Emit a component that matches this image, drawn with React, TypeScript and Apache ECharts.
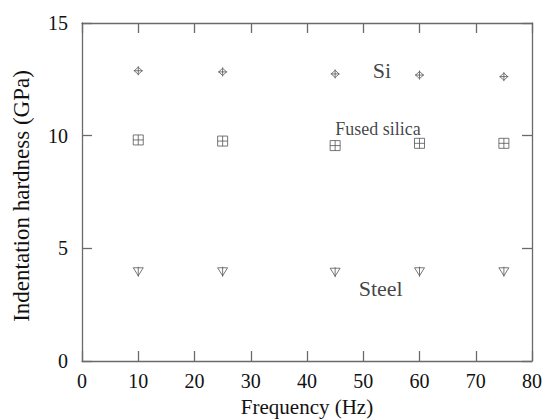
import React, { useEffect, useRef } from "react";
import * as echarts from "echarts";

const frequencies = [10, 25, 45, 60, 75];
const siValues = [12.88, 12.83, 12.74, 12.69, 12.62];
const silicaValues = [9.81, 9.76, 9.56, 9.66, 9.66];
const steelValues = [3.96, 3.96, 3.94, 3.96, 3.96];
const annotations: [number, number, string, number][] = [
  [53.3, 12.9, "Si", 22],
  [52.6, 10.3, "Fused silica", 18],
  [53.1, 3.2, "Steel", 22],
];
const xTicks = [0, 10, 20, 30, 40, 50, 60, 70, 80];
const yTicks = [0, 5, 10, 15];

const FONT = "'Times New Roman', 'Liberation Serif', serif";
const AXIS_COLOR = "#6a6a6a";
const MARK_COLOR = "#555";

const siSymbol = "path://M5,1 L8.5,5 L5,9 L1.5,5 Z M5,0 L5,10 M1,5 L9,5";
const silicaSymbol = "path://M0,0 L10,0 L10,10 L0,10 Z M0,5 L10,5 M5,0 L5,10";
const steelSymbol = "path://M0,1 L10,1 L5,9 Z M5,0 L5,10";

export default function App() {
  const ref = useRef<HTMLDivElement>(null);
  useEffect(() => {
    if (!ref.current) return;
    const chart = echarts.init(ref.current, undefined, { renderer: "svg" });
    const axisCommon = {
      type: "value" as const,
      axisLine: { show: true, onZero: false, lineStyle: { color: AXIS_COLOR, width: 1.3 } },
      axisTick: { show: true, inside: true, length: 10, lineStyle: { color: AXIS_COLOR, width: 1.3 } },
      splitLine: { show: false },
    };
    const mk = (vals: number[]) => frequencies.map((f, i) => [f, vals[i]]);
    const markStyle = { color: "none", borderColor: MARK_COLOR, borderWidth: 1 };
    chart.setOption({
      animation: false,
      textStyle: { fontFamily: FONT },
      grid: {
        left: 82,
        right: 12,
        top: 23,
        bottom: 58,
        containLabel: false,
        outerBoundsMode: "none",
      },
      xAxis: [
        {
          ...axisCommon,
          min: 0,
          max: 80,
          interval: 10,
          position: "bottom",
          name: "Frequency (Hz)",
          nameLocation: "middle",
          nameGap: 35,
          nameTextStyle: { fontFamily: FONT, fontSize: 21, lineHeight: 21, color: "#111" },
          axisLabel: {
            fontFamily: FONT,
            fontSize: 20,
            color: "#111",
            margin: 10,
            formatter: (v: number) => (xTicks.includes(v) ? String(v) : ""),
          },
        },
        {
          ...axisCommon,
          min: 0,
          max: 80,
          interval: 10,
          position: "top",
          axisLabel: { show: false },
        },
      ],
      yAxis: [
        {
          ...axisCommon,
          min: 0,
          max: 15,
          interval: 5,
          position: "left",
          name: "Indentation hardness (GPa)",
          nameLocation: "middle",
          nameGap: 49,
          nameTextStyle: { fontFamily: FONT, fontSize: 23, color: "#111", padding: [0, 8, 0, 0] },
          axisLabel: {
            fontFamily: FONT,
            fontSize: 20,
            color: "#111",
            margin: 14,
            verticalAlign: "middle",
            padding: [0, 0, 5, 0],
            formatter: (v: number) => (yTicks.includes(v) ? String(v) : ""),
          },
        },
        {
          ...axisCommon,
          min: 0,
          max: 15,
          interval: 5,
          position: "right",
          axisLabel: { show: false },
        },
      ],
      series: [
        {
          type: "scatter",
          name: "Si",
          data: mk(siValues),
          symbol: siSymbol,
          symbolSize: 9,
          itemStyle: markStyle,
        },
        {
          type: "scatter",
          name: "Fused silica",
          data: mk(silicaValues),
          symbol: silicaSymbol,
          symbolSize: 10,
          itemStyle: markStyle,
        },
        {
          type: "scatter",
          name: "Steel",
          data: mk(steelValues),
          symbol: steelSymbol,
          symbolSize: 10,
          itemStyle: markStyle,
        },
        {
          type: "scatter",
          name: "labels",
          symbolSize: 0,
          data: annotations.map((a) => ({
            value: [a[0], a[1]],
            label: {
              show: true,
              position: "inside",
              formatter: a[2],
              fontFamily: FONT,
              fontSize: a[3],
              color: "#111",
            },
          })),
        },
      ],
    });
    return () => chart.dispose();
  }, []);
  return (
    <div
      ref={ref}
      style={{ position: "absolute", left: 0, top: 0, width: 544, height: 419 }}
    />
  );
}
